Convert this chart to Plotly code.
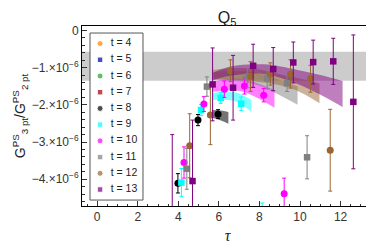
import plotly.graph_objects as go

# ---- data (values in units of 1e-6) ----
t_labels = ["t = 4", "t = 5", "t = 6", "t = 7", "t = 8", "t = 9", "t = 10", "t = 11", "t = 12", "t = 13"]
colors = ["#FF8000", "#0000A0", "#1FA51F", "#A00000", "#000000", "#00FFFF", "#FF00FF", "#808080", "#996633", "#800080"]
symbols = ["circle", "square", "circle", "square", "circle", "square", "circle", "square", "circle", "square"]

# t = 4..7: no points inside the plotted range
tau_t4, val_t4, err_t4 = [], [], []
tau_t5, val_t5, err_t5 = [], [], []
tau_t6, val_t6, err_t6 = [], [], []
tau_t7, val_t7, err_t7 = [], [], []
tau_t8 = [3.98, 4.97, 5.96]
val_t8 = [-4.11, -2.41, -2.25]
err_t8 = [0.26, 0.15, 0.12]
tau_t9 = [4.15, 5.12, 6.09, 7.10, 8.14]
val_t9 = [-4.09, -2.14, -1.81, -1.97, -5.0]
err_t9 = [0.38, 0.15, 0.15, 0.18, 0.36]
tau_t10 = [4.28, 5.26, 6.27, 7.26, 8.21, 9.22]
val_t10 = [-3.55, -1.98, -1.58, -1.49, -1.74, -4.39]
err_t10 = [0.42, 0.2, 0.22, 0.22, 0.18, 0.42]
tau_t11 = [4.42, 5.41, 7.42, 8.38, 9.36, 10.35]
val_t11 = [-3.72, -1.51, -1.24, -1.29, -1.42, -3.41]
err_t11 = [0.55, 0.26, 0.3, 0.28, 0.22, 0.58]
tau_t12 = [4.56, 5.58, 6.57, 7.56, 8.54, 9.53, 10.52, 11.49]
val_t12 = [-3.10, -2.27, -1.08, -1.24, -1.17, -1.17, -1.30, -3.22]
err_t12 = [0.86, 0.8, 0.29, 0.4, 0.3, 0.38, 0.36, 1.1]
tau_t13 = [3.70, 4.70, 5.69, 6.70, 7.69, 8.68, 9.67, 10.65, 11.64, 12.63]
val_t13 = [-5.0, -4.05, -1.45, -1.54, -0.95, -1.04, -0.86, -0.85, -0.83, -1.92]
err_t13 = [2.2, 1.64, 0.98, 0.87, 0.58, 0.58, 0.55, 0.59, 0.62, 1.8]

# fit bands (x, upper, lower)
band_t8_x = [5.68, 6.10, 6.47]
band_t8_hi = [-2.14, -2.15, -2.19]
band_t8_lo = [-2.35, -2.42, -2.51]
band_t9_x = [5.68, 6.81, 7.60]
band_t9_hi = [-1.68, -1.66, -1.87]
band_t9_lo = [-1.87, -1.90, -2.19]
band_t10_x = [5.68, 7.06, 8.74]
band_t10_hi = [-1.38, -1.30, -1.60]
band_t10_lo = [-1.65, -1.63, -2.08]
band_t11_x = [5.68, 7.6, 9.88]
band_t11_hi = [-1.12, -1.12, -1.51]
band_t11_lo = [-1.33, -1.42, -2.00]
band_t12_x = [5.68, 7.56, 9.53, 10.96]
band_t12_hi = [-1.06, -1.02, -1.24, -1.42]
band_t12_lo = [-1.30, -1.36, -1.55, -1.96]
band_t13_x = [5.73, 6.57, 8.20, 9.88, 11.01, 12.10]
band_t13_hi = [-1.14, -0.97, -0.91, -1.06, -1.20, -1.36]
band_t13_lo = [-1.33, -1.22, -1.17, -1.44, -1.73, -2.06]
band_colors = ["rgba(70,70,70,0.75)", "rgba(0,255,255,0.5)", "rgba(255,0,255,0.5)",
               "rgba(128,128,128,0.5)", "rgba(153,102,51,0.5)", "rgba(128,0,128,0.5)"]

ref_lo, ref_hi = -1.35, -0.57

y_tickvals = [0, -1, -2, -3, -4]
y_ticktext = ["0", "−1.×10<sup>−6</sup>", "−2.×10<sup>−6</sup>", "−3.×10<sup>−6</sup>", "−4.×10<sup>−6</sup>"]
x_tickvals = [0, 2, 4, 6, 8, 10, 12]

taus = [tau_t4, tau_t5, tau_t6, tau_t7, tau_t8, tau_t9, tau_t10, tau_t11, tau_t12, tau_t13]
vals = [val_t4, val_t5, val_t6, val_t7, val_t8, val_t9, val_t10, val_t11, val_t12, val_t13]
errs = [err_t4, err_t5, err_t6, err_t7, err_t8, err_t9, err_t10, err_t11, err_t12, err_t13]
bands = [(band_t8_x, band_t8_hi, band_t8_lo), (band_t9_x, band_t9_hi, band_t9_lo),
         (band_t10_x, band_t10_hi, band_t10_lo), (band_t11_x, band_t11_hi, band_t11_lo),
         (band_t12_x, band_t12_hi, band_t12_lo), (band_t13_x, band_t13_hi, band_t13_lo)]

FONT = "Liberation Sans, Arial, sans-serif"
fig = go.Figure()

for (bx, bhi, blo), bc in zip(bands, band_colors):
    fig.add_trace(go.Scatter(x=bx, y=bhi, mode="lines", line=dict(width=0, shape="spline", color=bc),
                             showlegend=False, hoverinfo="skip"))
    fig.add_trace(go.Scatter(x=bx, y=blo, mode="lines", line=dict(width=0, shape="spline", color=bc),
                             fill="tonexty", fillcolor=bc, showlegend=False, hoverinfo="skip"))

for lab, c, s, x, y, e in zip(t_labels, colors, symbols, taus, vals, errs):
    fig.add_trace(go.Scatter(
        x=x, y=y, mode="markers", name=lab, showlegend=False,
        marker=dict(color=c, symbol=s, size=7 if s == "circle" else 6.5),
        error_y=dict(type="data", array=e, color=c, thickness=1, width=2),
    ))

# legend drawn in an inset axis: one entry per series (index = row)
leg_rows = list(range(len(t_labels)))
fig.add_trace(go.Scatter(
    x=[0.19] * len(leg_rows), y=leg_rows, mode="markers", xaxis="x2", yaxis="y2",
    marker=dict(color=colors, symbol=symbols, size=[6 if s == "circle" else 5.5 for s in symbols]),
    showlegend=False, hoverinfo="skip"))
fig.add_trace(go.Scatter(
    x=[0.39] * len(leg_rows), y=leg_rows, mode="text", text=t_labels, textposition="middle right",
    textfont=dict(family=FONT, size=10.5, color="#222"), xaxis="x2", yaxis="y2",
    showlegend=False, hoverinfo="skip"))

fig.add_shape(type="rect", xref="paper", yref="y", x0=0, x1=1, y0=ref_lo, y1=ref_hi,
              fillcolor="#CCCCCC", line=dict(width=0), layer="below")
fig.add_shape(type="rect", xref="paper", yref="paper", x0=0.0275, x1=0.2096, y0=0.033, y1=0.961,
              fillcolor="white", line=dict(width=1, color="#555"), layer="below")

axis_common = dict(showline=True, linecolor="black", linewidth=1, mirror=True, ticks="inside",
                   tickcolor="#333", ticklen=5, showgrid=False, zeroline=False, automargin=False,
                   tickfont=dict(family=FONT, size=12, color="#333"))

fig.update_xaxes(range=[-0.75, 13.6], tickvals=x_tickvals,
                 minor=dict(ticks="inside", ticklen=2.5, dtick=0.5, tickcolor="#333"),
                 title=dict(text="<i>τ</i>", font=dict(size=16, family="Liberation Serif, serif", color="#222"),
                            standoff=6),
                 **axis_common)
fig.update_yaxes(range=[-4.72, 0.12], tickvals=y_tickvals, ticktext=y_ticktext,
                 minor=dict(ticks="inside", ticklen=2.5, dtick=0.2, tickcolor="#333"),
                 title=dict(text="G<sup>PS</sup><sub>3 pt</sub>/G<sup>PS</sup><sub>2 pt</sub>",
                            font=dict(size=14, family=FONT, color="#222"),
                            standoff=2),
                 **axis_common)

fig.update_layout(
    width=374, height=246,
    margin=dict(l=74, r=9, t=18, b=48, autoexpand=False),
    paper_bgcolor="white", plot_bgcolor="rgba(0,0,0,0)",
    xaxis2=dict(domain=[0.0275, 0.2096], anchor="y2", range=[0, 1], visible=False, fixedrange=True),
    yaxis2=dict(domain=[0.033, 0.961], anchor="x2", range=[9.65, -0.65], visible=False, fixedrange=True),
    title=dict(text="Q<sub>5</sub>", x=0.586, xanchor="center", y=0.962, yanchor="middle",
               font=dict(size=16, family=FONT, color="#222")),
    showlegend=False,
)

fig.write_html("out.html")
